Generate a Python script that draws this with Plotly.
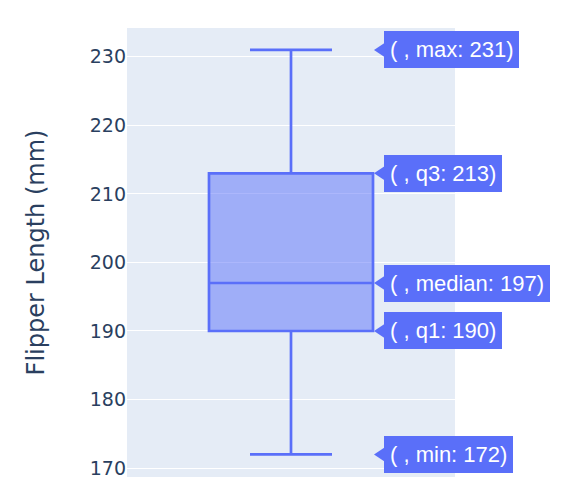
import plotly.graph_objects as go

# Estadístiques del diagrama de caixa (llegides de la imatge)
categoria = [" "]
minim = [172]
q1 = [190]
mediana = [197]
q3 = [213]
maxim = [231]

fig = go.Figure()
fig.add_trace(go.Box(
    x=categoria,
    lowerfence=minim,
    q1=q1,
    median=mediana,
    q3=q3,
    upperfence=maxim,
    width=0.5,
    marker_color="#5a6ff9",
    line=dict(width=2.7),
    showlegend=False,
))

# Etiquetes tipus "hover" fixes al costat de cada estadística
etiquetes = [("max", maxim[0]), ("q3", q3[0]), ("median", mediana[0]),
             ("q1", q1[0]), ("min", minim[0])]
for nom, valor in etiquetes:
    fig.add_annotation(
        x=0.25, y=valor, xref="x", yref="y",
        text=f"( , {nom}: {valor})",
        showarrow=False, xanchor="left", yanchor="middle", xshift=11,
        font=dict(family="Arial, Liberation Sans", size=22, color="white"),
        bgcolor="#5a6ff9", bordercolor="#5a6ff9", borderwidth=1, borderpad=5,
    )
    fig.add_shape(
        type="path", xref="x", yref="y",
        xsizemode="pixel", ysizemode="pixel", xanchor=0.25, yanchor=valor,
        path="M 1,0 L 13,8 L 13,-8 Z",
        fillcolor="#5a6ff9", line=dict(color="#5a6ff9", width=0),
        layer="above",
    )

# Configuració estètica (marges compensant el marge del body de la pàgina)
fig.update_layout(
    width=566, height=498,
    margin=dict(l=119, r=119, t=20, b=29),
    font=dict(family="Verdana, DejaVu Sans", size=19, color="#2a3f5f"),
    plot_bgcolor="#e5ecf6",
    xaxis=dict(range=[-0.5, 0.5], showticklabels=False, showgrid=False),
    yaxis=dict(
        title=dict(text="Flipper Length (mm)", font=dict(size=24), standoff=38),
        range=[168.7, 234.2], dtick=10, gridcolor="white",
        zeroline=False,
    ),
)

fig.write_html("out.html")
